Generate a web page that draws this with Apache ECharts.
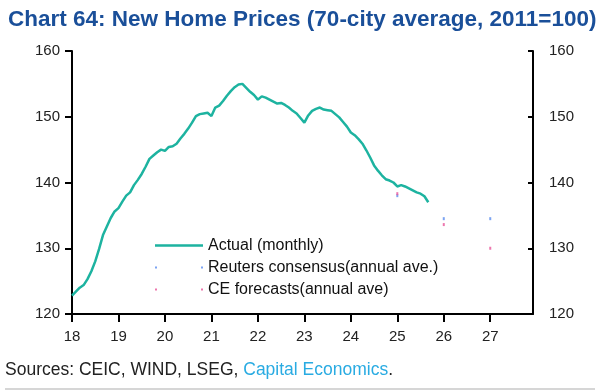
<!DOCTYPE html>
<html><head><meta charset="utf-8">
<script src="https://cdn.jsdelivr.net/npm/echarts@6/dist/echarts.min.js"></script>
<style>html,body{margin:0;padding:0;background:#fff}#c{width:600px;height:392px}</style>
</head><body><div id="c"></div>
<script>
// Monthly 70-city average new home price index (2011=100), Jan 2018 onward
var startYear = 2018;
var actual = [
 122.8,123.4,124.0,124.4,125.3,126.5,128.0,129.9,132.0,133.3,134.6,135.6,
 136.1,137.1,138.0,138.5,139.6,140.4,141.3,142.4,143.6,144.1,144.6,145.0,
 144.8,145.4,145.5,145.9,146.7,147.4,148.2,149.1,150.1,150.4,150.5,150.6,
 150.1,151.4,151.7,152.4,153.2,153.9,154.5,154.9,155.0,154.4,153.8,153.3,
 152.6,153.1,152.9,152.6,152.3,152.0,152.1,151.8,151.4,150.9,150.5,149.8,
 149.1,150.2,150.9,151.2,151.4,151.1,151.0,150.9,150.4,149.9,149.2,148.5,
 147.6,147.2,146.6,145.9,144.9,143.8,142.6,141.8,141.1,140.5,140.3,140.0,
 139.4,139.6,139.4,139.1,138.8,138.5,138.3,137.9,137.0
];
var forecastYears = [2025, 2026, 2027];
var reuters = [138.0, 134.5, 134.5];
var ceForecast = [138.3, 133.6, 130.0];
var xTickYears = [2018,2019,2020,2021,2022,2023,2024,2025,2026,2027];
var xTickLabels = ['18','19','20','21','22','23','24','25','26','27'];

var actualData = actual.map(function(v,i){ return [startYear + i/12, v]; });
var reutersData = forecastYears.map(function(y,i){ return [y, reuters[i]]; });
var ceData = forecastYears.map(function(y,i){ return [y, ceForecast[i]]; });

var font = 'Liberation Sans';
var dotIcon = 'path://M0,6h2v2h-2zM46,6h2v2h-2zM0,0h0.05v0.05h-0.05zM47.95,13.95h0.05v0.05h-0.05z';
var lineIcon = 'path://M0,5.75h48v2.5h-48zM0,0h0.05v0.05h-0.05zM47.95,13.95h0.05v0.05h-0.05z';

var chart = echarts.init(document.getElementById('c'), null, {renderer:'canvas'});
chart.setOption({
  animation:false,
  backgroundColor:'#fff',
  title:{
    text:'Chart 64: New Home Prices (70-city average, 2011=100)',
    left:3, top:3,
    textStyle:{fontFamily:font, fontWeight:'bold', fontSize:22.5, color:'#1a4f99'}
  },
  grid:{left:72, right:67, top:51, bottom:78, containLabel:false},
  legend:{
    orient:'vertical', left:150, top:232, itemWidth:48, itemHeight:14, itemGap:5,
    textStyle:{fontFamily:font, fontSize:16, color:'#111', lineHeight:17},
    data:[
      {name:'Actual (monthly)', icon:lineIcon, itemStyle:{color:'#1db3a0'}},
      {name:'Reuters consensus(annual ave.)', icon:dotIcon, itemStyle:{color:'#5b8def'}},
      {name:'CE forecasts(annual ave)', icon:dotIcon, itemStyle:{color:'#e8559a'}}
    ]
  },
  xAxis:{
    type:'value', min:2018, max:2027.92, interval:1,
    axisLine:{show:true, onZero:false, lineStyle:{color:'#000', width:2}},
    axisTick:{show:true, length:8, lineStyle:{color:'#000', width:2}},
    splitLine:{show:false},
    axisLabel:{showMaxLabel:false, margin:15, fontFamily:font, fontSize:15, color:'#222',
      formatter:function(v){ var k = xTickYears.indexOf(Math.round(v)); return k>=0 ? xTickLabels[k] : ''; }}
  },
  yAxis:[
    {type:'value', min:120, max:160, interval:10, position:'left',
     axisLine:{show:true, lineStyle:{color:'#000', width:2}},
     axisTick:{show:true, length:7, lineStyle:{color:'#000', width:2}},
     splitLine:{show:false},
     axisLabel:{margin:12, fontFamily:font, fontSize:15, color:'#222'}},
    {type:'value', min:120, max:160, interval:10, position:'right',
     axisLine:{show:true, lineStyle:{color:'#000', width:2}},
     axisTick:{show:true, inside:true, length:5, lineStyle:{color:'#000', width:2}},
     splitLine:{show:false},
     axisLabel:{margin:16, fontFamily:font, fontSize:15, color:'#222'}}
  ],
  series:[
    {name:'Actual (monthly)', type:'line', data:actualData, symbol:'none', smooth:false,
     lineStyle:{color:'#1db3a0', width:2.5}, itemStyle:{color:'#1db3a0'}},
    {name:'Reuters consensus(annual ave.)', type:'scatter', data:reutersData,
     symbol:'rect', symbolSize:[2,3], itemStyle:{color:'#5b8def'}},
    {name:'CE forecasts(annual ave)', type:'scatter', data:ceData,
     symbol:'rect', symbolSize:[2,3], itemStyle:{color:'#e8559a'}}
  ],
  graphic:[
    {type:'text', left:5, top:361, style:{
      text:'{a|Sources: CEIC, WIND, LSEG, }{b|Capital Economics}{a|.}',
      rich:{a:{fontFamily:font, fontSize:17.5, fill:'#222'}, b:{fontFamily:font, fontSize:17.5, fill:'#29abe2'}}
    }},
    {type:'line', shape:{x1:5, y1:389, x2:595, y2:389}, style:{stroke:'#c8c8c8', lineWidth:1.5}}
  ]
});
</script></body></html>
